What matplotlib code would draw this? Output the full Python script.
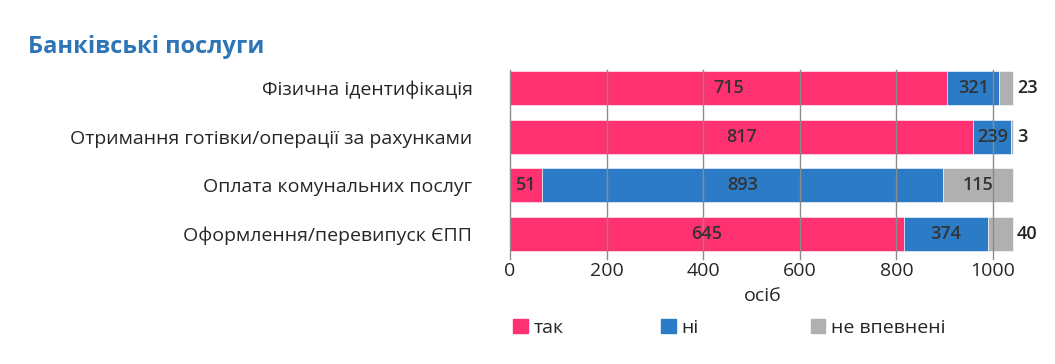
import matplotlib

matplotlib.use("Agg")
import matplotlib.pyplot as plt
from matplotlib.patches import Patch

plt.rcParams["font.family"] = ["Open Sans", "DejaVu Sans"]

categories = [
    "Фізична ідентифікація",
    "Отримання готівки/операції за рахунками",
    "Оплата комунальних послуг",
    "Оформлення/перевипуск ЄПП",
]
series_names = ["так", "ні", "не впевнені"]

# numbers printed on the bars
label_yes = [715, 817, 51, 645]
label_no = [321, 239, 893, 374]
label_unsure = [23, 3, 115, 40]

# bar lengths as drawn on the axis (they do not follow the labels)
width_yes = [905, 959, 66, 816]
width_no = [108, 79, 831, 174]
width_unsure = [29, 4, 145, 52]

xticks = [0, 200, 400, 600, 800, 1000]

colors = ["#FF3170", "#2C7BC6", "#B0B0B0"]
text_color = "#333333"

fig = plt.figure(figsize=(10.55, 3.64), dpi=100)
ax = fig.add_axes([0.4834, 0.3077, 0.4784, 0.5000])

y = list(range(len(categories)))
widths = [width_yes, width_no, width_unsure]
labels = [label_yes, label_no, label_unsure]
left = [0] * len(categories)
for k in range(3):
    bars = ax.barh(y, widths[k], left=left, height=0.7, color=colors[k],
                   edgecolor="white", linewidth=0.4, zorder=1)
    for i, b in enumerate(bars):
        w = widths[k][i]
        x0 = left[i]
        if k == 2 and w < 80:
            ax.text(x0 + w + 8, i, str(labels[k][i]), ha="left", va="center",
                    fontsize=13, fontweight="semibold", color="#222222")
        else:
            ax.text(x0 + w / 2, i, str(labels[k][i]), ha="center", va="center",
                    fontsize=13, fontweight="semibold", color=text_color, zorder=3)
    left = [left[i] + widths[k][i] for i in range(len(categories))]

ax.set_xlim(0, 1045)
ax.set_ylim(3.37, -0.37)
ax.set_yticks(y)
ax.set_yticklabels(categories, fontsize=14, color="#262626")
ax.set_xticks(xticks)
ax.set_xticklabels([str(t) for t in xticks], fontsize=14, color="#262626")
ax.tick_params(axis="y", length=0, pad=27)
ax.tick_params(axis="x", length=0, pad=7)
for t in xticks:
    ax.axvline(t, color="#8C8C8C", linewidth=1, zorder=2, ymin=-0.04, ymax=1.0,
               clip_on=False)
for s in ax.spines.values():
    s.set_visible(False)
ax.set_xlabel("осіб", fontsize=14, color="#262626", labelpad=5)

fig.text(0.027, 0.855, "Банківські послуги", fontsize=17, fontweight="bold",
         color="#2E75B6")

legend_x = [0.470, 0.610, 0.752]
for k in range(3):
    fig.legend(handles=[Patch(color=colors[k])], labels=[series_names[k]],
               loc="center left", bbox_to_anchor=(legend_x[k], 0.10),
               frameon=False, fontsize=14, handlelength=0.75, handleheight=0.75,
               handletextpad=0.3, labelcolor="#262626")

fig.savefig("out.png", dpi=100)
